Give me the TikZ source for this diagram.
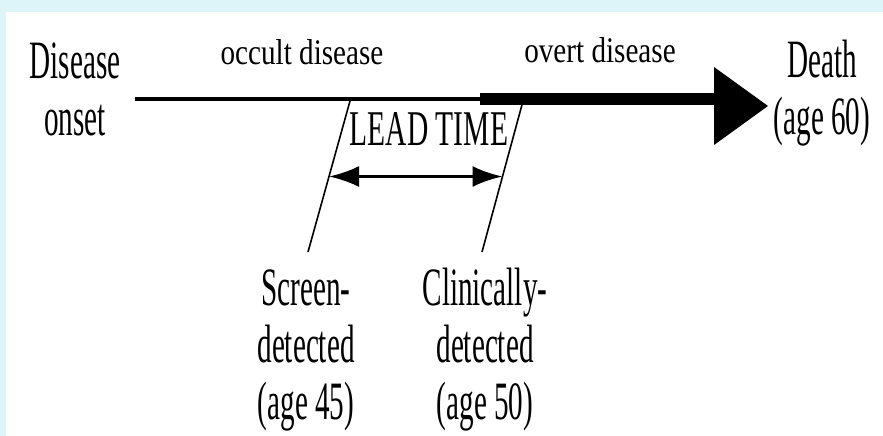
\documentclass[tikz,border=0pt]{standalone}
\usepackage{fontspec}
\newfontfamily\tallfont[FakeStretch=0.54]{Liberation Serif}
\newfontfamily\leadfont[FakeStretch=0.59]{Liberation Serif}
\newfontfamily\phasefont[FakeStretch=0.81]{Liberation Serif}
\usetikzlibrary{arrows.meta,calc}
\definecolor{framebg}{RGB}{221,244,249}
\begin{document}
\begin{tikzpicture}[x=1pt,y=-1pt,
  lbl/.style={font=\tallfont\fontsize{54}{57}\selectfont,align=center,anchor=base,inner sep=0pt},
  phase/.style={font=\phasefont\fontsize{36}{40}\selectfont,anchor=base,inner sep=0pt},
  leadtip/.tip={Latex[length=30pt,width=21pt]}]
\useasboundingbox (0,0) rectangle (883,436);
\fill[framebg] (0,0) rectangle (883,436);
\fill[white] (6,12) rectangle (883,436);
% labels (base = last line)
\node[lbl] (onset) at (75,135) {Disease\\onset};
\node[lbl] (death) at (822,134) {Death\\(age 60)};
\node[phase] (occult) at (302,65) {occult disease};
\node[phase] (overt) at (600,63) {overt disease};
\node[lbl,font=\leadfont\fontsize{50}{54}\selectfont] (lead) at (429,145) {LEAD TIME};
\node[lbl] (screen) at (306,419) {Screen-\\detected\\(age 45)};
\node[lbl] (clinical) at (485,419) {Clinically-\\detected\\(age 50)};
% time line
\coordinate (start) at (135,99);
\coordinate (clin) at (480,99);
\coordinate (headbase) at (715,99);
\draw[line width=4pt] (start) -- (clin);
\draw[line width=12pt] (clin) -- (headbase);
\fill (headbase) ++(-1,-32) -- ++(54,39) -- ++(-54,39) -- cycle;
% detection marks
\coordinate (scrtop) at (350,101);
\coordinate (scrbot) at (308,252);
\coordinate (clintop) at (523,101);
\coordinate (clinbot) at (482,252);
\draw[line width=1.6pt] (scrtop) -- (scrbot);
\draw[line width=1.6pt] (clintop) -- (clinbot);
\draw[line width=3pt,leadtip-leadtip] ($(scrtop)!0.5!(scrbot)$) -- ($(clintop)!0.5!(clinbot)$);
\end{tikzpicture}
\end{document}
